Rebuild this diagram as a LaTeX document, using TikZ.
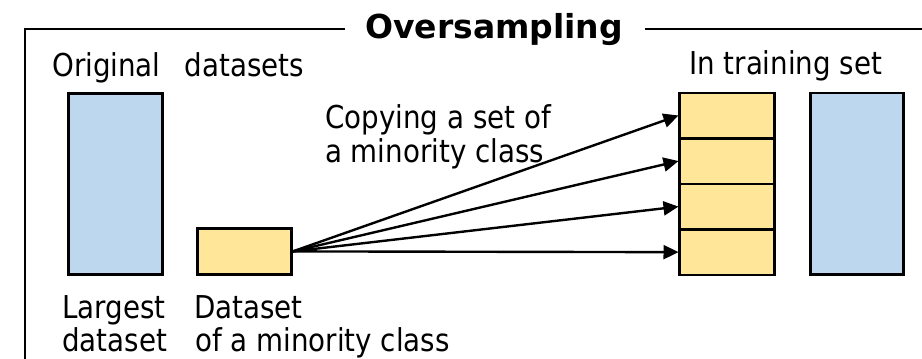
\documentclass[tikz,border=0pt]{standalone}
\usepackage{fontspec}
\setmainfont{DejaVu Sans}[FakeStretch=0.88]
\newfontfamily\titlefont{DejaVu Sans}[FakeStretch=1.0]
\usetikzlibrary{arrows.meta}
\definecolor{bluefill}{HTML}{BDD7EE}
\definecolor{yellowfill}{HTML}{FFE699}
\tikzset{
  databox/.style={draw=black, line width=2.8pt, inner sep=0pt, anchor=north west},
  bluebox/.style={databox, fill=bluefill},
  yellowbox/.style={databox, fill=yellowfill},
  lbl/.style={anchor=base west, inner sep=0pt, font=\fontsize{31.5}{36}\selectfont},
  copyarrow/.style={line width=2.4pt, -{Triangle[length=15pt,width=14pt]}, shorten >=-0.5pt},
  frameline/.style={line width=2.3pt}
}
\begin{document}
\begin{tikzpicture}[x=1pt,y=-1pt]
\useasboundingbox (0,0) rectangle (922,359);
% frame
\node[anchor=base west, inner sep=0pt, font=\titlefont\bfseries\fontsize{33}{38}\selectfont] (title) at (365,38) {Oversampling};
\coordinate (fl) at (345,29);
\coordinate (fr) at (645,29);
\coordinate (fc) at (25,29);
\coordinate (fb) at (25,362);
\coordinate (fe) at (925,29);
\draw[frameline] (fb) -- (fc) -- (fl);
\draw[frameline] (fr) -- (fe);
% boxes
\node[bluebox, minimum width=94pt, minimum height=181pt] (large) at (67,92) {};
\node[yellowbox, minimum width=94pt, minimum height=46pt] (minor) at (196,227) {};
\node[yellowbox, minimum width=95pt, minimum height=45.5pt] (c1) at (678,91.5) {};
\node[yellowbox, minimum width=95pt, minimum height=45.5pt] (c2) at (678,137) {};
\node[yellowbox, minimum width=95pt, minimum height=45.5pt] (c3) at (678,182.5) {};
\node[yellowbox, minimum width=95pt, minimum height=45.5pt] (c4) at (678,228) {};
\node[bluebox, minimum width=93pt, minimum height=181.5pt] (train) at (809,91.5) {};
% arrows
\draw[copyarrow] (minor.east) -- (c1.west);
\draw[copyarrow] (minor.east) -- (c2.west);
\draw[copyarrow] (minor.east) -- (c3.west);
\draw[copyarrow] (minor.east) -- (c4.west);
% labels
\node[lbl] (orig) at (52,76) {Original\hspace{24pt}datasets};
\node[lbl] (intrain) at (689,74) {In training set};
\node[lbl] (copy1) at (325,128) {Copying a set of};
\node[lbl] (copy2) at (325,162) {a minority class};
\node[lbl] (lg1) at (62,318) {Largest};
\node[lbl] (lg2) at (62,351) {dataset};
\node[lbl] (mn1) at (194,318) {Dataset};
\node[lbl] (mn2) at (195,351) {of a minority class};
\end{tikzpicture}
\end{document}
